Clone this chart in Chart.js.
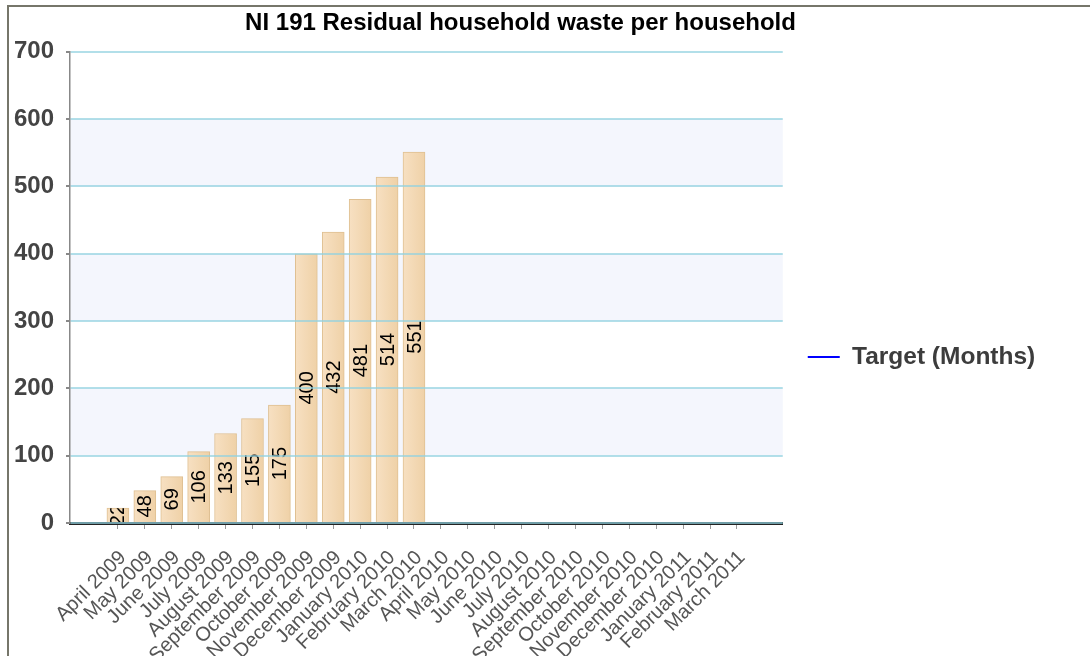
<!DOCTYPE html>
<html>
<head>
<meta charset="utf-8">
<script src="https://cdn.jsdelivr.net/npm/chart.js@4/dist/chart.umd.min.js"></script>
<style>
  html, body { margin: 0; padding: 0; background: #fff; overflow: hidden; }
  #frame { position: absolute; left: 7px; top: 5px; width: 1100px; height: 700px;
           border-top: 2px solid #76766a; border-left: 2px solid #76766a; pointer-events: none; z-index: 2; }
  #wrap { position: absolute; left: -4px; top: 8px; width: 1049px; height: 698px; }
</style>
</head>
<body>
<div id="frame"></div>
<div id="wrap"><canvas id="wasteChart"></canvas></div>
<script>
// NI 191 chart

const months = [
  "April 2009", "May 2009", "June 2009", "July 2009", "August 2009", "September 2009",
  "October 2009", "November 2009", "December 2009", "January 2010", "February 2010", "March 2010",
  "April 2010", "May 2010", "June 2010", "July 2010", "August 2010", "September 2010",
  "October 2010", "November 2010", "December 2010", "January 2011", "February 2011", "March 2011"
];
const actual = [22, 48, 69, 106, 133, 155, 175, 400, 432, 481, 514, 551];
const yTicks = [0, 100, 200, 300, 400, 500, 600, 700];
const shadedBands = [[100, 200], [300, 400], [500, 600]];

const FONT = "'Liberation Sans', Arial, sans-serif";

const bandPlugin = {
  id: "bands",
  beforeDraw(chart) {
    const {ctx, chartArea} = chart;
    const y = chart.scales.y;
    ctx.save();
    ctx.fillStyle = "#f4f6fd";
    shadedBands.forEach(b => {
      const top = y.getPixelForValue(b[1]);
      const bot = y.getPixelForValue(b[0]);
      ctx.fillRect(chartArea.left, top, chartArea.right - chartArea.left, bot - top);
    });
    ctx.restore();
  }
};

const labelPlugin = {
  id: "barLabels",
  afterDatasetsDraw(chart) {
    const {ctx} = chart;
    const meta = chart.getDatasetMeta(0);
    meta.data.forEach((bar, i) => {
      const {x, y, base, width} = bar.getProps(["x", "y", "base", "width"], true);
      ctx.save();
      ctx.beginPath();
      ctx.rect(x - width / 2, y, width, base - y);
      ctx.clip();
      ctx.translate(x, (y + base) / 2);
      ctx.rotate(-Math.PI / 2);
      ctx.font = "20px " + FONT;
      ctx.fillStyle = "#000";
      ctx.textAlign = "center";
      ctx.textBaseline = "middle";
      ctx.fillText(String(actual[i]), 0, 1);
      ctx.restore();
    });
  }
};

function barFill(c) {
  const sx = c.chart.scales.x;
  if (!sx || !c.chart.chartArea) return "#f3d8b4";
  const cx = sx.getPixelForValue(c.dataIndex);
  if (!Number.isFinite(cx)) return "#f3d8b4";
  const g = c.chart.ctx.createLinearGradient(cx - 11, 0, cx + 11, 0);
  g.addColorStop(0, "#f7e0c2");
  g.addColorStop(1, "#efd1a7");
  return g;
}

const wasteChart = document.getElementById("wasteChart");

new Chart(wasteChart, {
  type: "bar",
  data: {
    datasets: [{
      label: "Residual waste",
      data: actual.map((v, i) => ({x: i, y: v})),
      backgroundColor: barFill,
      borderColor: "#dfc092",
      borderWidth: 1,
      barThickness: 22
    }, {
      type: "line",
      label: "Target (Months)",
      data: [],
      borderColor: "#0000ff",
      backgroundColor: "#0000ff",
      borderWidth: 2,
      pointStyle: "line"
    }]
  },
  options: {
    responsive: true,
    maintainAspectRatio: false,
    animation: false,
    layout: { padding: 0 },
    plugins: {
      title: {
        display: true,
        text: "NI 191 Residual household waste per household",
        color: "#000",
        font: { family: FONT, size: 24, weight: "bold" },
        padding: { top: 1, bottom: 14 }
      },
      legend: {
        position: "right",
        labels: {
          filter: (item) => item.text === "Target (Months)",
          usePointStyle: true,
          pointStyleWidth: 32,
          padding: 25,
          color: "#3c3c3c",
          font: { family: FONT, size: 24.5, weight: "bold" }
        }
      },
      tooltip: { enabled: false }
    },
    scales: {
      x: {
        type: "linear",
        offset: false,
        min: -1.78,
        max: 24.7,
        afterBuildTicks: (s) => { s.ticks = months.map((m, i) => ({value: i})); },
        afterFit: (s) => { s.height = 183; },
        ticks: {
          autoSkip: false,
          minRotation: 45,
          maxRotation: 45,
          padding: 17,
          labelOffset: 5,
          color: "#555",
          font: { family: FONT, size: 20 },
          callback: (v) => months[v]
        },
        grid: {
          offset: false,
          drawOnChartArea: false,
          tickLength: 6,
          tickColor: "#999"
        },
        border: { color: "#222", width: 3 }
      },
      y: {
        min: 0,
        max: 700,
        afterBuildTicks: (s) => { s.ticks = yTicks.map(v => ({value: v})); },
        afterFit: (s) => { s.width = 74; },
        ticks: {
          padding: 12,
          color: "#444",
          font: { family: FONT, size: 24, weight: "bold" }
        },
        grid: {
          z: 1,
          color: "rgba(145,210,224,0.7)",
          lineWidth: 2,
          tickLength: 4,
          tickColor: "#888"
        },
        border: { z: 2, color: "#888", width: 1.5 }
      }
    }
  },
  plugins: [bandPlugin, labelPlugin]
});
</script>
</body>
</html>
